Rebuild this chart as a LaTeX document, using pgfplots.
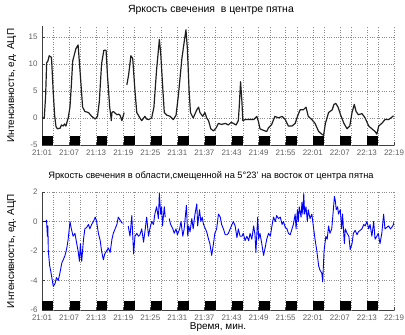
\documentclass[border=0pt]{standalone}
\usepackage{pgfplots}
\pgfplotsset{compat=1.18}
\usepackage{fontspec}
\setmainfont{Liberation Sans}

\definecolor{ticktext}{gray}{0.38}
\definecolor{gridgray}{gray}{0.55}

\pgfplotsset{
  spotaxis/.style={
    scale only axis, width=352bp,
    xmin=0, xmax=78,
    axis x line*=bottom, axis y line*=left,
    axis line style={black!75, line width=0.5pt},
    tick align=inside, major tick length=3bp,
    tick style={black!75, line width=0.4pt},
    xtick={0,6,...,78},
    xticklabels={21:01,21:07,21:13,21:19,21:25,21:31,21:37,21:43,21:49,21:55,22:01,22:07,22:13,22:19},
    extra x ticks={2.5,8.5,14.5,20.5,26.5,32.5,38.5,44.5,50.5,56.5,62.5,68.5,74.5},
    extra x tick labels={},
    extra x tick style={grid=major, major tick length=0pt},
    grid=major,
    major grid style={dotted, gridgray, line width=0.5pt},
    ticklabel style={font=\fontsize{8}{9}\selectfont, text=ticktext},
    /pgf/number format/assume math mode=true,
    xticklabel style={yshift=-1bp},
    yticklabel style={xshift=-1bp},
    title style={at={(0.48,1)}, anchor=south, yshift=2bp},
    ylabel style={font=\fontsize{10}{12}\selectfont, at={(axis description cs:-0.086,0.5)}, anchor=center},
    unbounded coords=jump,
    clip=true,
  },
  stim/.style={fill=black, draw=none},
}

\begin{document}
\begin{tikzpicture}
\path[use as bounding box] (0,0) rectangle (405bp,-335bp);

% --- brightness at the spot centre ---
\begin{axis}[spotaxis,
  at={(42bp,-26bp)}, anchor=north west, height=119bp,
  ymin=-5, ymax=17, ytick={-5,0,5,10,15},
  title style={font=\fontsize{10.5}{12}\selectfont},
  title={Яркость свечения\ \ в центре пятна},
  ylabel={Интенсивность, ед. АЦП},
]
% stimulus intervals
\addplot[stim] coordinates {(0.1,-5) (0.1,-3.3) (2.5,-3.3) (2.5,-5)} -- cycle;
\addplot[stim] coordinates {(6.1,-5) (6.1,-3.3) (8.5,-3.3) (8.5,-5)} -- cycle;
\addplot[stim] coordinates {(12.1,-5) (12.1,-3.3) (14.5,-3.3) (14.5,-5)} -- cycle;
\addplot[stim] coordinates {(18.1,-5) (18.1,-3.3) (20.5,-3.3) (20.5,-5)} -- cycle;
\addplot[stim] coordinates {(24.1,-5) (24.1,-3.3) (26.5,-3.3) (26.5,-5)} -- cycle;
\addplot[stim] coordinates {(30.1,-5) (30.1,-3.3) (32.5,-3.3) (32.5,-5)} -- cycle;
\addplot[stim] coordinates {(36.1,-5) (36.1,-3.3) (38.5,-3.3) (38.5,-5)} -- cycle;
\addplot[stim] coordinates {(42.1,-5) (42.1,-3.3) (44.5,-3.3) (44.5,-5)} -- cycle;
\addplot[stim] coordinates {(48.1,-5) (48.1,-3.3) (50.5,-3.3) (50.5,-5)} -- cycle;
\addplot[stim] coordinates {(54.1,-5) (54.1,-3.3) (56.5,-3.3) (56.5,-5)} -- cycle;
\addplot[stim] coordinates {(60.1,-5) (60.1,-3.3) (62.5,-3.3) (62.5,-5)} -- cycle;
\addplot[stim] coordinates {(66.1,-5) (66.1,-3.3) (68.5,-3.3) (68.5,-5)} -- cycle;
\addplot[stim] coordinates {(72.1,-5) (72.1,-3.3) (74.5,-3.3) (74.5,-5)} -- cycle;
\addplot[black!88, line width=1.2pt, line join=round] table {
0 0
0.5 0
0.8 4
1.03 10.2
1.3 10.5
1.6 11.5
2.1 11.2
2.5 4.6
2.8 0.5
3.1 -1.6
3.4 -2.0
4.0 -1.9
4.3 -1.3
4.7 -1.5
5.0 -1.1
5.3 -1.5
5.8 0
6.2 2
6.5 6
6.8 10.5
7.5 12.8
8.0 13.5
8.4 9
9.0 2
9.5 1.2
10.3 1.0
11.0 0.3
11.8 -0.2
12.3 0.3
12.7 3
13.2 10
13.7 12.5
14.2 12.5
14.5 8
15.0 2
15.3 0
15.35 -0.5
15.5 1.0
15.8 1.2
16.6 0.6
17.0 0.7
17.3 0.5
17.7 -0.5
18.2 1.0
18.5 nan
18.8 6.1
19.2 8
19.7 11.5
20.1 11
20.6 5
21.0 1
21.7 0
22.1 -0.5
22.8 0.3
23.2 -0.2
23.6 -0.3
24.3 0
24.8 2
25.4 9
25.9 13.5
26.0 14.5
26.3 12
26.8 5
27.1 1
27.7 0.5
28.4 0.3
29.1 -0.3
29.7 0.5
30.2 4
31.0 11
31.5 14
31.9 16.3
32.2 13
32.6 5
32.9 1
33.5 0
34.3 1.5
34.7 2
35.0 1.0
35.6 0.3
36.1 1.0
36.5 0
36.9 -0.5
37.4 -2
38.0 -2.4
38.6 -1.8
39.1 -1.0
39.8 -1.2
40.6 -1.0
41.3 -1.3
41.9 -0.8
42.4 -1.0
43.0 -1.3
43.5 -0.5
43.7 2
44.0 6.7
44.3 3
44.5 -0.5
45.0 -0.3
45.8 -0.3
46.9 -0.3
47.6 0.3
48.0 -0.8
48.3 -2
49.1 -2.3
49.8 -2.5
50.2 -1.8
50.9 -1.2
51.6 0.3
52.4 0
53.2 0.3
53.9 -0.3
54.6 -1.5
55.4 -1.5
56.1 -1.0
56.7 0.5
57.2 1.5
57.9 1.5
58.5 2
59.0 0.3
59.8 -0.3
60.5 -1.0
61.3 -2.5
62.0 -3
62.4 -3.2
62.8 -1
63.5 1.0
64.3 1.5
64.7 2.5
65.1 2.7
65.6 2.0
66.2 0.5
66.9 -1
67.6 -2
68.2 -1.5
68.7 1
69.2 2.5
69.6 1.2
70.1 0.6
70.9 0.8
71.6 0
72.4 -1.5
73.1 -2
73.8 -2.5
74.2 -3
74.6 -1.5
75.3 -1
76.0 -0.3
76.8 -0.3
77.3 0
77.9 0.4
};
\end{axis}

% --- brightness in the region shifted east of the spot centre ---
\begin{axis}[spotaxis,
  at={(42bp,-192bp)}, anchor=north west, height=118bp,
  ymin=-6, ymax=2, ytick={-6,-4,-2,0,2},
  title style={font=\fontsize{9.3}{11}\selectfont},
  title={Яркость свечения в области,смещенной на 5°23' на восток от центра пятна},
  ylabel={Интенсивность, ед. АЦП},
  xlabel={Время, мин.},
  xlabel style={font=\fontsize{10}{12}\selectfont, yshift=4bp},
]
\addplot[stim] coordinates {(0.1,-6) (0.1,-5.4) (2.5,-5.4) (2.5,-6)} -- cycle;
\addplot[stim] coordinates {(6.1,-6) (6.1,-5.4) (8.5,-5.4) (8.5,-6)} -- cycle;
\addplot[stim] coordinates {(12.1,-6) (12.1,-5.4) (14.5,-5.4) (14.5,-6)} -- cycle;
\addplot[stim] coordinates {(18.1,-6) (18.1,-5.4) (20.5,-5.4) (20.5,-6)} -- cycle;
\addplot[stim] coordinates {(24.1,-6) (24.1,-5.4) (26.5,-5.4) (26.5,-6)} -- cycle;
\addplot[stim] coordinates {(30.1,-6) (30.1,-5.4) (32.5,-5.4) (32.5,-6)} -- cycle;
\addplot[stim] coordinates {(36.1,-6) (36.1,-5.4) (38.5,-5.4) (38.5,-6)} -- cycle;
\addplot[stim] coordinates {(42.1,-6) (42.1,-5.4) (44.5,-5.4) (44.5,-6)} -- cycle;
\addplot[stim] coordinates {(48.1,-6) (48.1,-5.4) (50.5,-5.4) (50.5,-6)} -- cycle;
\addplot[stim] coordinates {(54.1,-6) (54.1,-5.4) (56.5,-5.4) (56.5,-6)} -- cycle;
\addplot[stim] coordinates {(60.1,-6) (60.1,-5.4) (62.5,-5.4) (62.5,-6)} -- cycle;
\addplot[stim] coordinates {(66.1,-6) (66.1,-5.4) (68.5,-5.4) (68.5,-6)} -- cycle;
\addplot[stim] coordinates {(72.1,-6) (72.1,-5.4) (74.5,-5.4) (74.5,-6)} -- cycle;
\addplot[blue, line width=0.9pt, line join=round] table {
0 0
0.9 0
1.0 0.1
1.2 -1.0
1.3 -0.3
1.4 -2.0
1.7 -3.0
1.9 -3.3
2.5 -4.4
2.9 -4.2
3.2 -3.8
3.6 -4.0
3.9 -3.6
4.4 -2.8
4.7 -2.6
5.1 -2.3
5.5 -1.8
5.8 -1.2
6.2 0.0
6.5 -0.5
6.9 -1.0
7.3 -0.8
7.7 -1.5
8.0 -2.0
8.3 -2.7
8.5 -1.5
8.8 -2.7
9.2 -1.2
9.5 -0.5
9.9 -0.4
10.3 -0.2
10.6 -0.5
11.0 -0.2
11.4 0.0
11.8 0.3
12.1 0.0
12.5 -0.8
12.9 -1.3
13.2 -2.0
13.6 -2.6
13.9 -2.2
14.3 -2.0
14.7 -1.8
15.1 -2.1
15.5 -1.2
15.8 -0.8
16.2 -0.5
16.6 -0.2
16.9 0.3
17.3 0.1
17.7 -0.1
18.2 -0.1
18.6 nan
19.1 -0.3
19.5 -1.0
19.9 0.4
20.3 -2.2
20.6 -1.0
21.0 -0.8
21.4 -1.0
21.7 -0.9
22.1 -0.5
22.5 -1.4
22.8 -0.7
23.2 0.3
23.6 -1.0
23.9 -0.5
24.3 0.0
24.7 -0.2
25.0 0.5
25.4 1.0
25.8 0.2
26.0 1.9
26.3 0.5
26.5 1.0
26.7 -0.3
27.1 1.0
27.3 0.3
27.7 nan
28.2 0.2
28.5 -0.2
29.0 -0.5
29.3 -0.8
29.7 -0.5
30.0 -0.9
30.5 -0.5
30.8 0.0
31.2 -1.0
31.5 -0.5
32.0 1.1
32.3 -1.0
32.5 -0.3
32.8 -0.7
33.2 0.2
33.5 -0.5
33.9 0.5
34.3 1.2
34.5 -0.3
34.9 0.8
35.2 0.0
35.5 0.3
35.8 -0.2
36.2 -0.5
36.5 -0.7
36.9 -1.2
37.2 -1.5
37.6 -2.3
38.0 -1.5
38.3 -0.8
38.7 -0.5
39.1 0.5
39.5 0.3
39.8 -0.2
40.2 -0.5
40.6 -0.9
41.0 -0.9
41.3 -0.8
41.7 -0.5
42.1 -0.2
42.4 0.0
42.8 -0.3
43.2 -1.1
43.5 -0.5
43.9 -1.0
44.3 -1.0
44.6 -0.8
45.0 -1.3
45.4 -1.0
45.8 -1.3
46.1 -0.8
46.5 -1.2
46.9 -0.3
47.2 -0.9
47.4 -2.1
47.8 0.3
48.0 -1.2
48.3 -0.8
48.7 -1.5
49.1 -2.3
49.5 -1.7
49.8 -1.2
50.2 -0.8
50.6 -1.0
50.9 -0.4
51.3 0.3
51.7 0.0
52.0 0.4
52.4 0.2
52.8 0.3
53.2 -0.2
53.5 0.0
53.9 -0.4
54.3 -0.5
54.6 -0.8
55.0 -0.9
55.4 -0.5
55.7 -0.2
56.1 0.5
56.3 -0.5
56.6 0.8
56.8 0.0
57.0 1.0
57.4 0.3
57.6 1.3
57.8 0.5
58.0 1.9
58.2 0.5
58.5 1.0
58.8 0.0
59.0 0.8
59.4 0.2
59.8 0.5
60.2 -0.5
60.5 -1.2
60.9 -2.0
61.3 -3.0
61.6 -3.3
62.0 -3.5
62.2 -4.1
62.5 -2.0
62.7 -1.5
62.9 -1.0
63.2 -1.2
63.5 -0.3
63.8 -0.8
64.2 -0.5
64.4 0.2
64.8 1.7
65.0 1.4
65.2 0.8
65.5 1.0
65.7 0.5
66.1 0.8
66.4 -0.5
66.6 0.5
67.0 -1.5
67.2 -0.5
67.6 -0.8
68.0 -1.0
68.3 -1.9
68.7 -1.5
69.0 -0.8
69.4 -0.6
69.8 -0.9
70.1 -0.7
70.5 -0.6
70.9 -0.5
71.3 -0.2
71.6 -0.3
72.0 0.0
72.4 -0.5
72.7 -0.2
73.1 -1.0
73.5 0.0
73.8 -1.2
74.2 -1.0
74.5 -0.8
74.9 -1.5
75.3 -0.8
75.7 0.5
76.0 -0.5
76.4 -0.4
76.8 -0.3
77.2 -0.5
77.5 -0.4
77.9 -0.2
78.0 0.0
};
\end{axis}
\end{tikzpicture}
\end{document}
